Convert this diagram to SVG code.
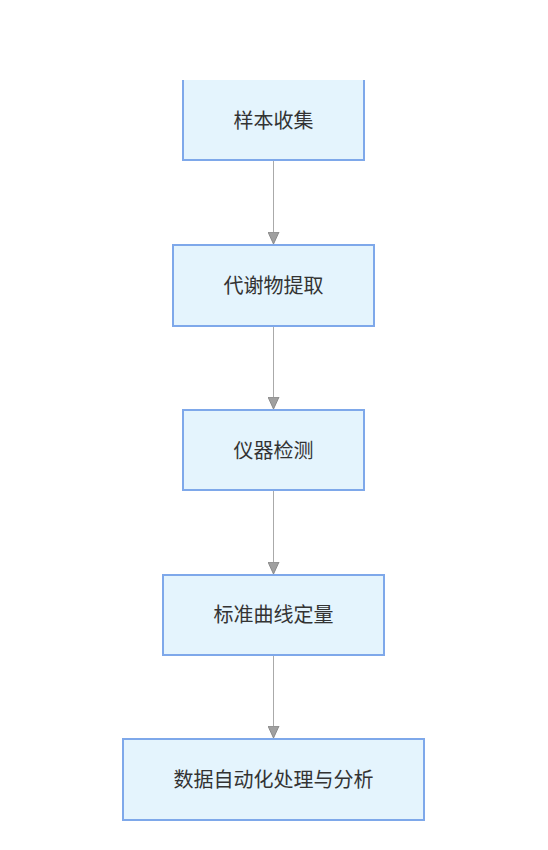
<svg xmlns="http://www.w3.org/2000/svg" width="548" height="850" viewBox="0 0 548 850">
<defs>
<style>
.box{fill:#e4f4fd;stroke:#7ea8ea;stroke-width:2}
.edge{fill:none;stroke:#aaaaaa;stroke-width:1}
.lbl{font-family:"Noto Sans CJK SC","Noto Sans",sans-serif;font-size:20px;fill:#333333;text-anchor:middle;dominant-baseline:central}
</style>
<marker id="arr" viewBox="0 0 12 12" refX="12" refY="6" markerWidth="12" markerHeight="12" markerUnits="userSpaceOnUse" orient="auto">
<path d="M0,0.5 L12,6 L0,11.5 Z" fill="#a0a0a0" stroke="#8a8a8a" stroke-width="1"/>
</marker>
<clipPath id="topclip"><rect x="0" y="80" width="548" height="770"/></clipPath>
</defs>
<rect width="548" height="850" fill="#ffffff"/>
<g id="connectors">
<line class="edge" x1="273.5" y1="161" x2="273.5" y2="244" marker-end="url(#arr)"/>
<line class="edge" x1="273.5" y1="326" x2="273.5" y2="409" marker-end="url(#arr)"/>
<line class="edge" x1="273.5" y1="491" x2="273.5" y2="574" marker-end="url(#arr)"/>
<line class="edge" x1="273.5" y1="656" x2="273.5" y2="738" marker-end="url(#arr)"/>
</g>
<g id="n1" clip-path="url(#topclip)">
<rect class="box" x="183" y="70" width="181" height="90"/>
<text class="lbl" x="273.5" y="119">样本收集</text>
</g>
<g id="n2">
<rect class="box" x="173" y="245" width="201" height="81"/>
<text class="lbl" x="273.5" y="284">代谢物提取</text>
</g>
<g id="n3">
<rect class="box" x="183" y="410" width="181" height="80"/>
<text class="lbl" x="273.5" y="449">仪器检测</text>
</g>
<g id="n4">
<rect class="box" x="163" y="575" width="221" height="80"/>
<text class="lbl" x="273.5" y="613">标准曲线定量</text>
</g>
<g id="n5">
<rect class="box" x="123" y="739" width="301" height="81"/>
<text class="lbl" x="273.5" y="778">数据自动化处理与分析</text>
</g>
</svg>
